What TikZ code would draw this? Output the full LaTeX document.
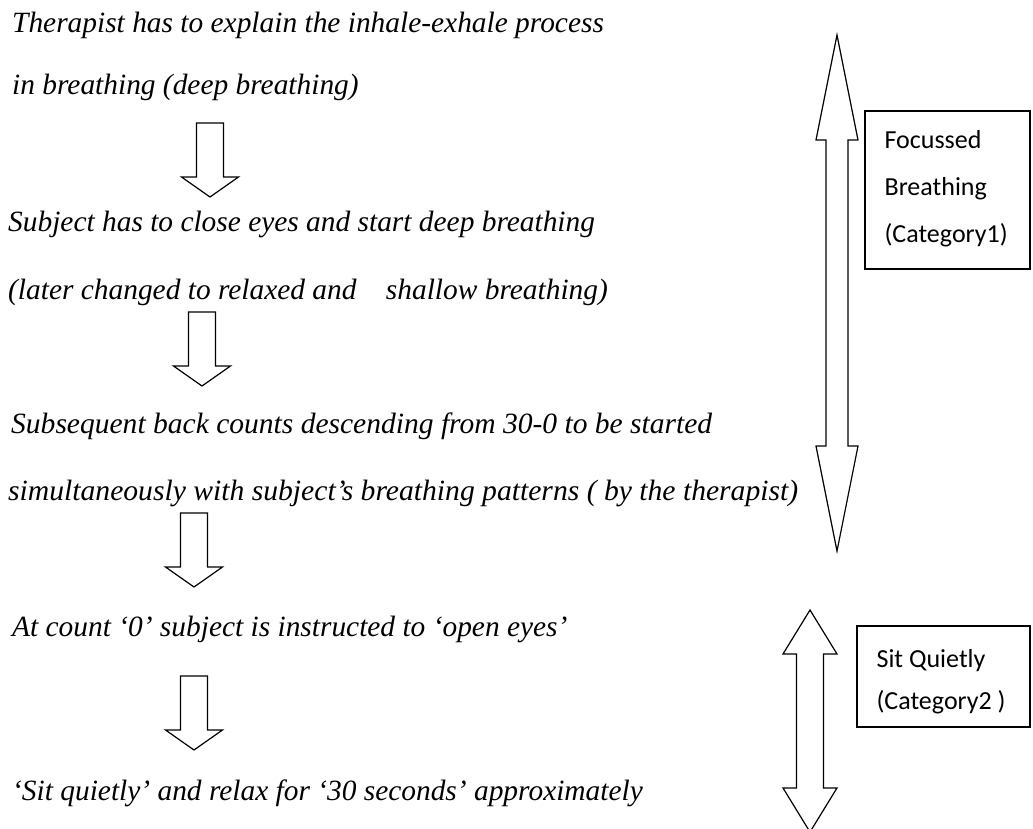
\documentclass[tikz,border=0pt]{standalone}
\usepackage{fontspec}
\setmainfont{Liberation Serif}
\newfontfamily\calibfont{Carlito}
\usepackage{graphicx}
\usetikzlibrary{calc}

\begin{document}
\begin{tikzpicture}[x=1pt, y=-1pt,
    stepline/.style={anchor=base west, inner sep=0pt, font=\fontsize{29.4}{36}\selectfont\itshape},
    catbox/.style={draw, line width=1.2pt, inner sep=0pt},
    cattext/.style={anchor=north west, inner sep=0pt, align=left}]
            \tikzset{hollow/.style = {draw, line width=1.2pt, line join=miter, fill=white}}

            \useasboundingbox[fill=white] (0,0) rectangle (1033,829);

            \node[stepline] (therapist) at (12,33) {Therapist has to explain the inhale-exhale process};
            \node[stepline] (inbreath) at (12,95) {in breathing (deep breathing)};
            \node[stepline] (closeeyes) at (8,232) {Subject has to close eyes and start deep breathing};
            \node[stepline] (later) at (8,299) {(later changed to relaxed and\hspace{1em}shallow breathing)};
            \node[stepline] (backcount) at (11,433) {\resizebox{701pt}{\height}{Subsequent back counts descending from 30-0 to be started}};
            \node[stepline] (simult) at (8,500) {\resizebox{790pt}{\height}{simultaneously with subject’s breathing patterns ( by the therapist)}};
            \node[stepline] (openeyes) at (12,636) {At count ‘0’ subject is instructed to ‘open eyes’};
            \node[stepline] (sitquiet) at (12,800) {‘Sit quietly’ and relax for ‘30 seconds’ approximately};

            % down arrows between the steps
            \coordinate (a1) at (210,123);
            \coordinate (a2) at (202,312);
            \coordinate (a3) at (194,513);
            \coordinate (a4) at (194,676);
            \foreach \p in {a1,a2,a3,a4}
                \draw[hollow] (\p) ++(-13.5,0) -- ++(27,0) -- ++(0,54) -- ++(15,0) -- ++(-28.5,20) -- ++(-28.5,-20) -- ++(15,0) -- cycle;

            % category arrows
            \coordinate (top1) at (837,35);
            \coordinate (bot1) at (837,551);
            \draw[hollow] (top1) -- ++(21,105) -- ++(-10,0) -- ($(bot1)+(11,-105)$) -- ++(10,0) -- (bot1)
                -- ++(-21,-105) -- ++(10,0) -- ($(top1)+(-11,105)$) -- ++(-10,0) -- cycle;

            \coordinate (top2) at (810,610);
            \coordinate (bot2) at (810,832);
            \draw[hollow] (top2) -- ++(27,44) -- ++(-13.5,0) -- ($(bot2)+(13.5,-44)$) -- ++(13.5,0) -- (bot2)
                -- ++(-27,-44) -- ++(13.5,0) -- ($(top2)+(-13.5,44)$) -- ++(-13.5,0) -- cycle;

            % category boxes
            \node[catbox, minimum width=165pt, minimum height=158pt] (cat1) at (947.5,190) {};
            \node[catbox, minimum width=173pt, minimum height=101pt] (cat2) at (943.5,676.5) {};
            \node[cattext, font=\calibfont\fontsize{26}{47}\selectfont] (cat1txt) at ($(cat1.north west)+(20,20)$) {Focussed\\Breathing\\(Category1)};
            \node[cattext, font=\calibfont\fontsize{26}{42}\selectfont] (cat2txt) at ($(cat2.north west)+(20,24)$) {Sit Quietly\\(Category2 )};

            \end{tikzpicture}
\end{document}
